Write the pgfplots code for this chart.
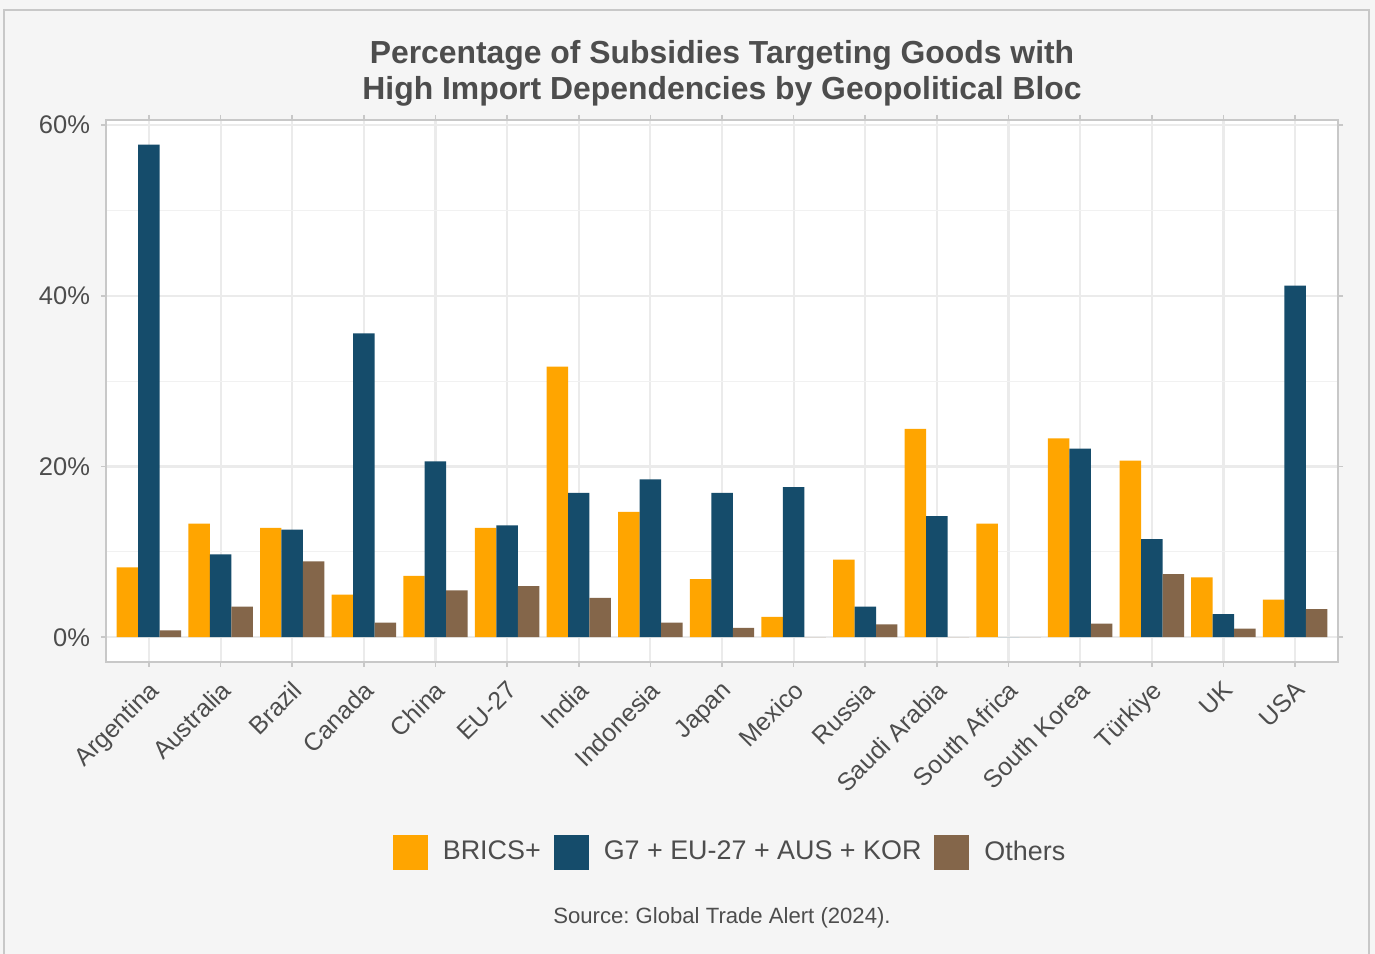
\documentclass[border=0pt]{standalone}
\usepackage{fontspec}
\setmainfont{Liberation Sans}
\usepackage{pgfplots}
\usepackage{pgfplotstable}
\pgfplotsset{compat=1.18}
\frenchspacing
\definecolor{bgc}{HTML}{F5F5F5}
\definecolor{cOr}{HTML}{FFA500}
\definecolor{cBl}{HTML}{154C6B}
\definecolor{cBr}{HTML}{84664A}
\definecolor{txt}{HTML}{4D4D4D}
\definecolor{gridc}{HTML}{EBEBEB}
\definecolor{framec}{HTML}{C8C8C8}

\pgfplotstableread{
x bric g7 oth
0 8.2 57.7 0.8
1 13.3 9.7 3.6
2 12.8 12.6 8.9
3 5.0 35.6 1.7
4 7.2 20.6 5.5
5 12.8 13.1 6.0
6 31.7 16.9 4.6
7 14.7 18.5 1.7
8 6.8 16.9 1.1
9 2.4 17.6 0
10 9.1 3.6 1.5
11 24.4 14.2 0
12 13.3 0 0
13 23.3 22.1 1.6
14 20.7 11.5 7.4
15 7.0 2.7 1.0
16 4.4 41.2 3.3
}\datatable

\pgfplotsset{sqlegend/.style={legend image code/.code={\fill[##1] (0bp,-8.75bp) rectangle (17.5bp,8.75bp);}}}

\begin{document}
\begin{tikzpicture}
\fill[bgc] (0bp,0bp) rectangle (687.5bp,477bp);
\path[use as bounding box] (0bp,0bp) rectangle (687.5bp,477bp);
\draw[framec, line width=0.8bp] (2bp,-2bp) -- (2bp,472bp) -- (684.5bp,472bp) -- (684.5bp,-2bp);
\node[align=center, text=txt, font=\bfseries\fontsize{16}{18}\selectfont] at (361bp,440.5bp) {Percentage of Subsidies Targeting Goods with\\High Import Dependencies by Geopolitical Bloc};
\node[text=txt, font=\fontsize{11.1}{13}\selectfont] at (361bp,18bp) {Source: Global Trade Alert (2024).};
\begin{axis}[
  at={(53bp,146bp)}, anchor=south west, scale only axis,
  width=616bp, height=271bp,
  xmin=-0.6, xmax=16.6, ymin=-2.9, ymax=60.6,
  ybar=0pt, bar width=0.3,
  axis background/.style={fill=white},
  axis line style={draw=framec, line width=0.8bp},
  xtick={0,...,16},
  xticklabels={Argentina,Australia,Brazil,Canada,China,EU-27,India,Indonesia,Japan,Mexico,Russia,Saudi Arabia,South Africa,South Korea,Türkiye,UK,USA},
  ytick={0,20,40,60}, yticklabels={0\%,20\%,40\%,60\%},
  minor ytick={10,30,50},
  xmajorgrids, ymajorgrids, yminorgrids,
  major grid style={draw=gridc, line width=1.1bp},
  minor grid style={draw=gridc!70, line width=0.6bp},
  tick align=outside, major tick length=2.5bp, minor tick length=0pt,
  tick style={draw=framec, line width=0.8bp},
  xticklabel style={rotate=45, anchor=north east, text=txt, font=\fontsize{12.5}{15}\selectfont, inner sep=1bp, yshift=-2.7bp, xshift=-3.8bp},
  yticklabel style={text=txt, font=\fontsize{12.8}{15}\selectfont, xshift=-2bp},
  legend columns=3,
  legend style={at={(0.5057,-0.3506)}, anchor=center, draw=none, fill=none,
    font=\fontsize{13.5}{16}\selectfont, text=txt,
    /tikz/every odd column/.append style={column sep=7.5bp},
    /tikz/every even column/.append style={column sep=6.5bp},
    nodes={inner sep=0pt}},
]
\addplot[sqlegend, fill=cOr, draw=none, bar shift=-0.3] table[x=x, y=bric] {\datatable};
\addplot[sqlegend, fill=cBl, draw=none, bar shift=0] table[x=x, y=g7] {\datatable};
\addplot[sqlegend, fill=cBr, draw=none, bar shift=0.3] table[x=x, y=oth] {\datatable};
\legend{BRICS+, G7 + EU-27 + AUS + KOR, Others}
\end{axis}
\end{tikzpicture}
\end{document}
